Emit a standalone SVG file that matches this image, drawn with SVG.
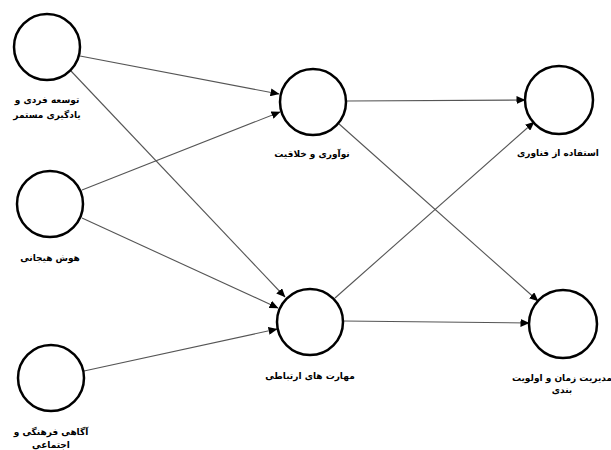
<svg xmlns="http://www.w3.org/2000/svg" width="611" height="450" viewBox="0 0 611 450">
<style>
.node circle{fill:#fff;stroke:#000;stroke-width:2.5}
.lbl{font-family:"DejaVu Sans",sans-serif;font-weight:bold;font-size:9px;fill:#000;text-anchor:middle}
.conn line{stroke:#555;stroke-width:1.1;marker-end:url(#ah)}
</style>
<defs>
<marker id="ah" markerWidth="9" markerHeight="8" refX="8.5" refY="4" orient="auto" markerUnits="userSpaceOnUse">
<path d="M0,0 L9,4 L0,8 Z" fill="#000"/>
</marker>
</defs>
<rect width="611" height="450" fill="#fff"/>
<g id="connectors" class="conn">
<line x1="80" y1="56" x2="279" y2="94"/>
<line x1="71" y1="71" x2="285" y2="297"/>
<line x1="82" y1="190" x2="280" y2="112"/>
<line x1="82" y1="218" x2="278" y2="308"/>
<line x1="84" y1="371" x2="277" y2="329"/>
<line x1="347" y1="101" x2="525" y2="100"/>
<line x1="338" y1="123" x2="538" y2="301"/>
<line x1="335" y1="298" x2="534" y2="122"/>
<line x1="343" y1="321" x2="529" y2="323"/>
</g>
<g id="n1" class="node"><circle cx="47" cy="47" r="33"/>
<text class="lbl" x="47" y="103">توسعه فردی و</text><text class="lbl" x="47" y="118">یادگیری مستمر</text></g>
<g id="n2" class="node"><circle cx="50" cy="204" r="33"/>
<text class="lbl" x="50" y="261">هوش هیجانی</text></g>
<g id="n3" class="node"><circle cx="51" cy="378" r="33"/>
<text class="lbl" x="51" y="435">آگاهی فرهنگی و</text><text class="lbl" x="51" y="448">اجتماعی</text></g>
<g id="n4" class="node"><circle cx="313" cy="102" r="33"/>
<text class="lbl" x="312" y="157">نوآوری و خلاقیت</text></g>
<g id="n5" class="node"><circle cx="310" cy="322" r="33"/>
<text class="lbl" x="310" y="379">مهارت های ارتباطی</text></g>
<g id="n6" class="node"><circle cx="559" cy="100" r="34"/>
<text class="lbl" x="558" y="156">استفاده از فناوری</text></g>
<g id="n7" class="node"><circle cx="563" cy="324" r="34"/>
<text class="lbl" x="562" y="381">مدیریت زمان و اولویت</text><text class="lbl" x="562" y="393">بندی</text></g>
</svg>
